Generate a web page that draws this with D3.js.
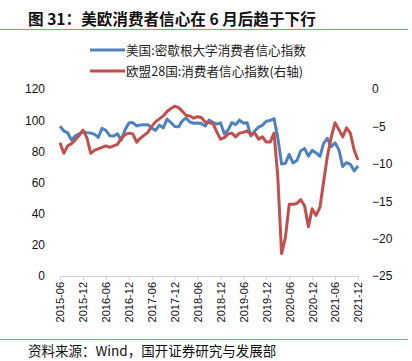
<!DOCTYPE html>
<html><head><meta charset="utf-8">
<script src="https://cdn.jsdelivr.net/npm/d3@7"></script>
<style>body{margin:0;background:#fff}svg{display:block}</style>
</head><body>
<svg id="c" width="412" height="361"></svg>
<script>
const startMonth = "2015-06";
const usSentiment = [96.1,93.1,91.9,87.2,90.0,91.3,92.6,92.0,91.7,91.0,89.0,94.7,93.5,90.0,89.8,91.2,87.2,93.8,98.2,98.5,96.3,96.9,97.0,97.1,95.0,93.4,96.8,95.1,100.7,98.5,95.9,95.7,99.7,101.4,98.8,98.0,98.2,97.9,96.2,100.1,98.6,97.5,98.3,91.2,93.8,98.4,97.2,100.0,98.2,98.4,89.8,93.2,95.5,96.8,99.3,99.8,101.0,89.1,71.8,72.3,78.1,72.5,74.1,80.4,81.8,76.9,80.7,79.0,76.8,84.9,88.3,82.9,85.5,81.2,70.3,72.8,71.7,67.4,70.6];
const euConfidence = [-7.2,-8.6,-7.6,-7.3,-6.8,-6.2,-5.5,-6.5,-8.6,-8.2,-8.0,-7.8,-7.6,-7.8,-7.6,-7.4,-6.6,-6.1,-5.9,-6.0,-7.1,-6.6,-6.2,-5.8,-5.0,-4.4,-4.0,-3.6,-3.0,-2.6,-2.3,-2.5,-3.0,-3.5,-3.6,-3.9,-3.7,-3.8,-4.4,-4.5,-4.6,-5.7,-6.7,-6.5,-6.0,-5.9,-6.4,-5.9,-5.8,-5.6,-6.1,-5.9,-6.7,-6.4,-7.1,-7.1,-5.9,-11.5,-22.0,-19.9,-15.4,-15.4,-15.3,-14.8,-15.6,-18.4,-16.0,-16.9,-15.8,-12.5,-9.0,-6.5,-4.5,-5.4,-6.4,-5.2,-5.9,-8.2,-9.5];
const leftTicks = [0,20,40,60,80,100,120];
const rightTicks = [0,-5,-10,-15,-20,-25];
const xTickLabels = ["2015-06","2015-12","2016-06","2016-12","2017-06","2017-12","2018-06","2018-12","2019-06","2019-12","2020-06","2020-12","2021-06","2021-12"];
const seriesNames = ["美国:密歇根大学消费者信心指数","欧盟28国:消费者信心指数(右轴)"];
const titleText = "图 31：美欧消费者信心在 6 月后趋于下行";
const sourceText = "资料来源：Wind，国开证券研究与发展部";

const svg = d3.select("#c");
const font = "'Liberation Sans', Arial, sans-serif";
const cjk = "'Noto Sans CJK SC', sans-serif";
const blue = "#4F81BD", red = "#C0504D";
const L = 60, R = 358, T = 89, B = 276;

// title
svg.append("text").attr("x",28).attr("y",25).attr("font-family",cjk).attr("font-weight","bold")
  .attr("font-size",15.6).attr("fill","#111").text(titleText);
svg.append("line").attr("x1",0).attr("x2",408).attr("y1",29.5).attr("y2",29.5).attr("stroke","#e07a7a").attr("stroke-width",1.2);

// legend
[[blue,50],[red,71]].forEach((d,i)=>{
  svg.append("line").attr("x1",90).attr("x2",125).attr("y1",d[1]).attr("y2",d[1]).attr("stroke",d[0]).attr("stroke-width",3);
  svg.append("text").attr("x",126).attr("y",d[1]+4.5).attr("font-family",cjk).attr("font-size",12.6).attr("fill","#222").text(seriesNames[i]);
});

const parse = d3.timeParse("%Y-%m");
const t0 = parse(startMonth);
const dates = usSentiment.map((_,i)=>d3.timeMonth.offset(t0,i));
const x = d3.scaleTime().domain([parse(xTickLabels[0]), parse(xTickLabels[xTickLabels.length-1])]).range([L,R]);
const yL = d3.scaleLinear().domain([0,120]).range([B,T]);
const yR = d3.scaleLinear().domain([-25,0]).range([B,T]);

// axes
const xAxis = d3.axisBottom(x).tickValues(xTickLabels.map(parse)).tickFormat(d3.timeFormat("%Y-%m")).tickSize(4).tickSizeOuter(0);
const gx = svg.append("g").attr("transform",`translate(0,${B})`).call(xAxis);
gx.select(".domain").attr("stroke","#d0d0d0");
gx.selectAll(".tick line").attr("stroke","#d0d0d0");
gx.selectAll("text").attr("font-family",font).attr("font-size",11).attr("fill","#111")
  .attr("transform","rotate(-90)").attr("text-anchor","end").attr("dx","-4").attr("dy","0.35em").attr("x",-2).attr("y",0);

const gl = svg.append("g").attr("transform",`translate(${L},0)`).call(d3.axisLeft(yL).tickValues(leftTicks).tickSize(0).tickPadding(15));
gl.select(".domain").remove();
gl.selectAll("text").attr("font-family",font).attr("font-size",12).attr("fill","#111");

const gr = svg.append("g").attr("transform",`translate(${R},0)`).call(d3.axisRight(yR).tickValues(rightTicks).tickSize(0).tickPadding(14));
gr.select(".domain").remove();
gr.selectAll("text").attr("font-family",font).attr("font-size",12).attr("fill","#111");

// lines
svg.append("path").datum(usSentiment).attr("fill","none").attr("stroke",blue).attr("stroke-width",3).attr("stroke-linejoin","round")
  .attr("d",d3.line().x((d,i)=>x(dates[i])).y(d=>yL(d)));
svg.append("path").datum(euConfidence).attr("fill","none").attr("stroke",red).attr("stroke-width",3).attr("stroke-linejoin","round")
  .attr("d",d3.line().x((d,i)=>x(dates[i])).y(d=>yR(d)));

// source
svg.append("line").attr("x1",0).attr("x2",408).attr("y1",339.5).attr("y2",339.5).attr("stroke","#e07a7a").attr("stroke-width",1.2);
svg.append("text").attr("x",28).attr("y",356).attr("font-family",cjk).attr("font-size",13.5).attr("fill","#111").text(sourceText);
</script>
</body></html>
